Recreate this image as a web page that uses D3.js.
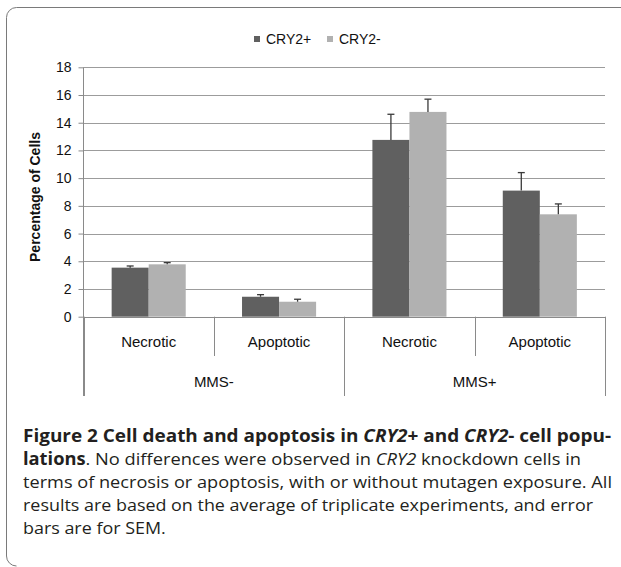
<!DOCTYPE html>
<html lang="en">
<head>
<meta charset="UTF-8">
<title>Cell death and apoptosis</title>
<style>
    body { margin: 0; background: #fff; }
    svg { display: block; }
    .tick-label, .legend-label { font-family: "Liberation Sans", Arial, sans-serif; font-size: 14px; fill: #111; }
    .cat-label { font-family: "Liberation Sans", Arial, sans-serif; font-size: 15px; fill: #111; }
    .axis-title { font-family: "Liberation Sans", Arial, sans-serif; font-size: 14px; font-weight: bold; fill: #111; }
    .caption { font-family: "Open Sans", "Noto Sans", sans-serif; font-size: 17px; fill: #231f20; }
</style>
</head>
<body>
<div id="chart"></div>
<script src="https://cdn.jsdelivr.net/npm/d3@7"></script>
<script>
    // Data
    const groups = ["MMS-", "MMS+"];
    const categories = ["Necrotic", "Apoptotic", "Necrotic", "Apoptotic"];
    const series = ["CRY2+", "CRY2-"];
    const cry2Plus = [3.54, 1.44, 12.76, 9.10];
    const cry2PlusErr = [0.12, 0.15, 1.85, 1.30];
    const cry2Minus = [3.78, 1.08, 14.78, 7.39];
    const cry2MinusErr = [0.12, 0.18, 0.92, 0.75];
    const yTicks = [0, 2, 4, 6, 8, 10, 12, 14, 16, 18];

    // caption lines: [text, style] pieces
    const captionLines = [
        [["Figure 2 Cell death and apoptosis in ", "b"], ["CRY2", "bi"], ["+ and ", "b"], ["CRY2", "bi"], ["- cell popu-", "b"]],
        [["lations", "b"], [". No differences were observed in ", ""], ["CRY2", "i"], [" knockdown cells in", ""]],
        [["terms of necrosis or apoptosis, with or without mutagen exposure. All", ""]],
        [["results are based on the average of triplicate experiments, and error", ""]],
        [["bars are for SEM.", ""]]
    ];
    const captionWidths = [588, 558, 589, 570, null];

    const width = 621, height = 567;
    const colors = ["#606060", "#b1b1b1"];

    const svg = d3.select("#chart").append("svg")
        .attr("width", width)
        .attr("height", height);

    // rounded frame (left/top/bottom-left visible)
    svg.append("path")
        .attr("d", "M621,7.5 H16.5 A10,10 0 0 0 6.5,17.5 V556 A10,10 0 0 0 16.5,566")
        .attr("fill", "none")
        .attr("stroke", "#7a7a7a")
        .attr("stroke-width", 1);

    // scales
    const y = d3.scaleLinear().domain([0, 18]).range([316.7, 67.3]);
    const x = d3.scaleBand().domain(d3.range(categories.length)).range([83.5, 605]);
    const xSub = d3.scaleBand().domain(series).range([0, x.bandwidth()]).paddingOuter(0.76);

    // gridlines
    svg.append("g")
        .selectAll("line")
        .data(yTicks.slice(1))
        .join("line")
        .attr("x1", 83.5).attr("x2", 605)
        .attr("y1", d => Math.round(y(d)) + 0.5).attr("y2", d => Math.round(y(d)) + 0.5)
        .attr("stroke", "#9c9c9c")
        .attr("stroke-width", 1.2);

    // y axis
    const yAxis = svg.append("g")
        .attr("transform", "translate(83.5,0)")
        .call(d3.axisLeft(y).tickValues(yTicks).tickSize(5).tickPadding(7));
    yAxis.select(".domain").attr("stroke", "#8a8a8a").attr("d", "M-0," + y(18) + "V396");
    yAxis.selectAll(".tick line").attr("stroke", "#8a8a8a");
    yAxis.selectAll(".tick text").attr("class", "tick-label").attr("font-size", null).attr("font-family", null);

    svg.append("text")
        .attr("class", "axis-title")
        .attr("transform", "translate(40,197) rotate(-90)")
        .attr("text-anchor", "middle")
        .text("Percentage  of Cells");

    // x axis line
    svg.append("line")
        .attr("x1", 83.5).attr("x2", 605)
        .attr("y1", Math.round(y(0)) + 0.5).attr("y2", Math.round(y(0)) + 0.5)
        .attr("stroke", "#8a8a8a").attr("stroke-width", 1.2);

    // category separators: short between categories, long between groups
    const bounds = d3.range(categories.length + 1).map(i => i < categories.length ? x(i) : x(i - 1) + x.bandwidth());
    svg.append("g")
        .selectAll("line")
        .data(bounds)
        .join("line")
        .attr("x1", d => Math.round(d) + 0.5).attr("x2", d => Math.round(d) + 0.5)
        .attr("y1", y(0))
        .attr("y2", (d, i) => i % 2 === 0 ? 396 : 356)
        .attr("stroke", "#8a8a8a");

    svg.append("g")
        .selectAll("text")
        .data(categories)
        .join("text")
        .attr("class", "cat-label")
        .attr("x", (d, i) => x(i) + x.bandwidth() / 2)
        .attr("y", 347)
        .attr("text-anchor", "middle")
        .text(d => d);

    svg.append("g")
        .selectAll("text")
        .data(groups)
        .join("text")
        .attr("class", "cat-label")
        .attr("x", (d, i) => x(i * 2) + x.bandwidth())
        .attr("y", 387)
        .attr("text-anchor", "middle")
        .text(d => d);

    // bars
    const seriesData = [
        { name: series[0], values: cry2Plus, errs: cry2PlusErr, color: colors[0] },
        { name: series[1], values: cry2Minus, errs: cry2MinusErr, color: colors[1] }
    ];
    const barData = seriesData.flatMap(s => s.values.map((v, i) => ({ s: s.name, i, v, e: s.errs[i], color: s.color })));

    svg.append("g")
        .selectAll("rect")
        .data(barData)
        .join("rect")
        .attr("x", d => x(d.i) + xSub(d.s))
        .attr("y", d => y(d.v))
        .attr("width", xSub.bandwidth())
        .attr("height", d => y(0) - y(d.v))
        .attr("fill", d => d.color);

    // error bars (upper only)
    const err = svg.append("g")
        .attr("stroke", "#3a3a3a")
        .attr("stroke-width", 1.3);
    err.selectAll(".stem")
        .data(barData)
        .join("line")
        .attr("x1", d => x(d.i) + xSub(d.s) + xSub.bandwidth() / 2)
        .attr("x2", d => x(d.i) + xSub(d.s) + xSub.bandwidth() / 2)
        .attr("y1", d => y(d.v))
        .attr("y2", d => y(d.v + d.e));
    err.selectAll(".cap")
        .data(barData)
        .join("line")
        .attr("x1", d => x(d.i) + xSub(d.s) + xSub.bandwidth() / 2 - 3.5)
        .attr("x2", d => x(d.i) + xSub(d.s) + xSub.bandwidth() / 2 + 3.5)
        .attr("y1", d => y(d.v + d.e))
        .attr("y2", d => y(d.v + d.e));

    // legend
    const legendX = [254, 327];
    const legend = svg.append("g")
        .selectAll("g")
        .data(seriesData)
        .join("g")
        .attr("transform", (d, i) => "translate(" + legendX[i] + ",35)");
    legend.append("rect")
        .attr("width", 6).attr("height", 6)
        .attr("y", 1)
        .attr("fill", d => d.color);
    legend.append("text")
        .attr("class", "legend-label")
        .attr("x", 12)
        .attr("y", 9)
        .text(d => d.name);

    // caption
    const cap = svg.append("g");
    let ratio = 1;
    captionLines.forEach((line, li) => {
        const t = cap.append("text")
            .attr("class", "caption")
            .attr("x", 23)
            .attr("y", 442 + li * 23);
        line.forEach(([txt, st]) => {
            t.append("tspan")
                .attr("font-weight", st.includes("b") ? "bold" : null)
                .attr("font-style", st.includes("i") ? "italic" : null)
                .text(txt);
        });
        const natural = t.node().getComputedTextLength();
        let target = captionWidths[li];
        if (target == null) target = natural * ratio;
        else ratio = target / natural;
        t.attr("textLength", target).attr("lengthAdjust", "spacingAndGlyphs");
    });
</script>
</body>
</html>
